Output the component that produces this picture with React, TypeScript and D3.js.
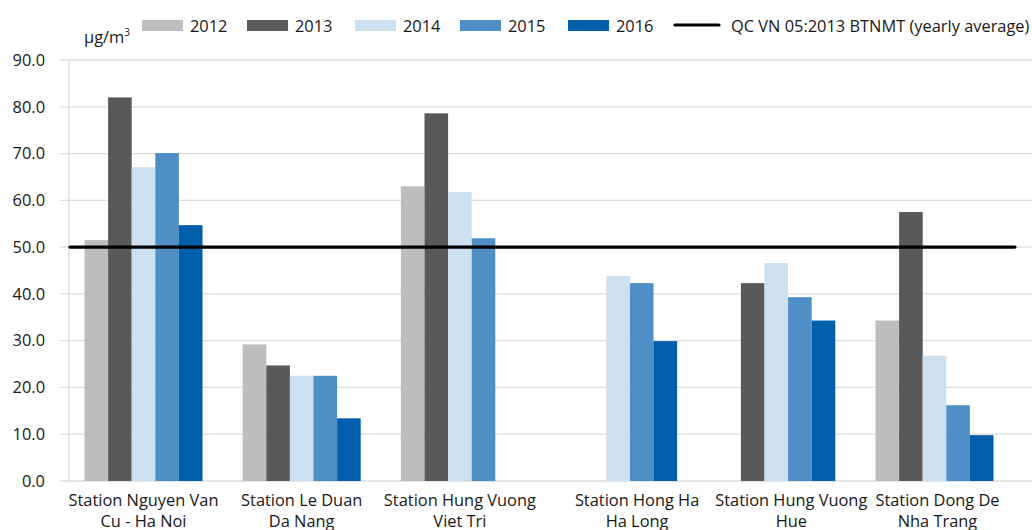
import React from 'react';
import * as d3 from 'd3';

const width = 1032;
const height = 530;

const stations = [
  ['Station Nguyen Van', 'Cu - Ha Noi'],
  ['Station Le Duan', 'Da Nang'],
  ['Station Hung Vuong', 'Viet Tri'],
  ['Station Hong Ha', 'Ha Long'],
  ['Station Hung Vuong', 'Hue'],
  ['Station Dong De', 'Nha Trang'],
];
const years = ['2012', '2013', '2014', '2015', '2016'];
const colors = ['#bcbdbf', '#58595b', '#cde0f0', '#4f8fc6', '#005eab'];

// one array per year, one value per station (null = no data)
const v2012 = [51.5, 29.2, 63.0, null, null, 34.3];
const v2013 = [82.0, 24.7, 78.6, null, 42.3, 57.5];
const v2014 = [67.1, 22.5, 61.8, 43.8, 46.6, 26.8];
const v2015 = [70.1, 22.5, 51.9, 42.3, 39.3, 16.2];
const v2016 = [54.7, 13.4, null, 29.9, 34.3, 9.8];
const series = [v2012, v2013, v2014, v2015, v2016];

const limit = 50;
const limitLabel = 'QC VN 05:2013 BTNMT (yearly average)';
const yTicks = [0, 10, 20, 30, 40, 50, 60, 70, 80, 90];

const axisX = 69;
const x = d3.scaleBand<number>()
  .domain(d3.range(stations.length))
  .range([64.4, 1013.6]);
const y = d3.scaleLinear().domain([0, 90]).range([481, 60]);
const barW = 23.6;
// the original nudges some category labels sideways to keep them apart
const labelNudge = [0, 0, 0, 19, 15, 3];

const font = "'Open Sans', sans-serif";
const fs = 16.4;
const ink = '#1a1718';

const legendX = [142, 247, 355, 460, 568];

const App = () => (
  <svg
    width={width}
    height={height}
    style={{ position: 'absolute', left: 0, top: 0, background: 'white' }}
    fontFamily={font}
  >
    {/* grid */}
    {yTicks.map(t => (
      <g key={t}>
        <line x1={60} x2={width} y1={y(t)} y2={y(t)} stroke="#dcdcdc" strokeWidth={1.3} />
        <text x={45} y={y(t)} dy="0.35em" textAnchor="end" fontSize={fs} fill={ink}>
          {d3.format('.1f')(t)}
        </text>
      </g>
    ))}
    <line x1={axisX} x2={axisX} y1={60} y2={y(0)} stroke="#dcdcdc" strokeWidth={1.3} />

    {/* bars */}
    {series.map((vals, s) =>
      vals.map((v, i) =>
        v == null ? null : (
          <rect
            key={`${s}-${i}`}
            x={x(i)! + x.bandwidth() / 2 - (barW * years.length) / 2 + s * barW}
            y={y(v)}
            width={barW}
            height={y(0) - y(v)}
            fill={colors[s]}
          />
        )
      )
    )}

    {/* reference line */}
    <line
      x1={axisX + 1}
      x2={1015}
      y1={y(limit)}
      y2={y(limit)}
      stroke="#000"
      strokeWidth={3.2}
      strokeLinecap="round"
    />

    {/* x labels */}
    {stations.map((lines, i) => {
      const cx = x(i)! + x.bandwidth() / 2 + labelNudge[i];
      return (
        <text key={i} x={cx} y={506} textAnchor="middle" fontSize={fs} fill={ink}>
          {lines.map((l, j) => (
            <tspan key={j} x={cx} dy={j === 0 ? 0 : 21}>
              {l}
            </tspan>
          ))}
        </text>
      );
    })}

    {/* unit */}
    <text x={84} y={42.5} fontSize={fs} fill={ink}>
      µg/m<tspan dy={-7} fontSize={10}>3</tspan>
    </text>

    {/* legend */}
    {years.map((yr, s) => (
      <g key={yr} transform={`translate(${legendX[s]},20)`}>
        <rect width={41} height={11} fill={colors[s]} />
        <text x={48} y={11.5} fontSize={fs} fill={ink}>{yr}</text>
      </g>
    ))}
    <line x1={675} x2={719} y1={25} y2={25} stroke="#000" strokeWidth={3.2} strokeLinecap="round" />
    <text x={731} y={31.5} fontSize={fs} fill={ink}>{limitLabel}</text>
  </svg>
);

export default App;
